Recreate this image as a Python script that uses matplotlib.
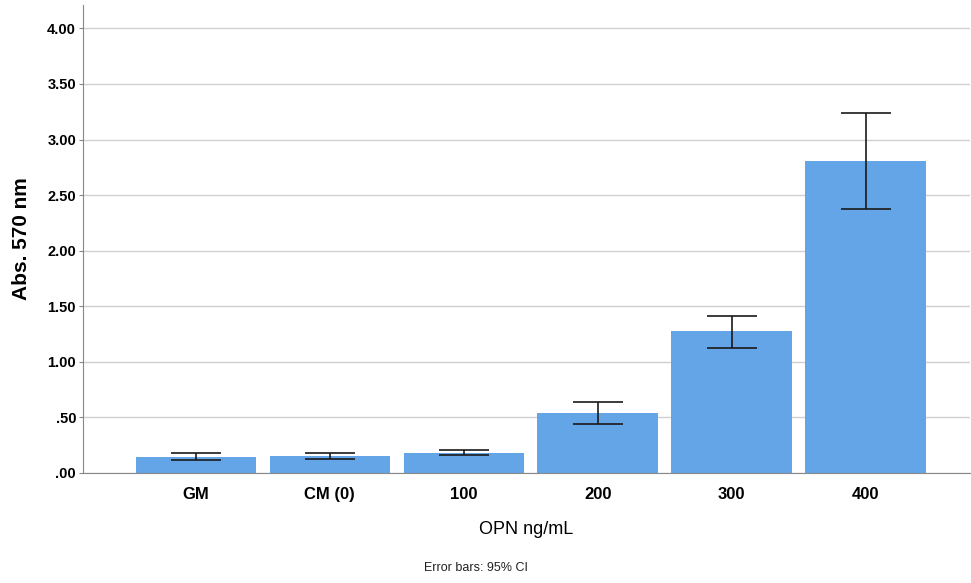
import matplotlib
matplotlib.use('Agg')
import matplotlib.pyplot as plt
from matplotlib.ticker import FuncFormatter

plt.rcParams['font.family'] = ['Liberation Sans', 'DejaVu Sans']

groups = ['GM', 'CM (0)', '100', '200', '300', '400']
means = [0.146, 0.153, 0.183, 0.54, 1.276, 2.807]
ci_low = [0.12, 0.129, 0.159, 0.44, 1.124, 2.379]
ci_high = [0.18, 0.183, 0.207, 0.64, 1.411, 3.239]
yticks = [0, 0.5, 1, 1.5, 2, 2.5, 3, 3.5, 4]


def fmt(v, pos):
    s = '%.2f' % v
    if s.startswith('0'):
        s = s[1:]
    return s


fig = plt.figure(figsize=(9.71, 5.83), dpi=100)
ax = fig.add_axes([0.0855, 0.1887, 0.9135, 0.8027])

x = list(range(len(groups)))
err = [[m - lo for m, lo in zip(means, ci_low)], [hi - m for m, hi in zip(means, ci_high)]]
ax.bar(x, means, width=0.9, color='#64a5e8', zorder=2)
ax.errorbar(x, means, yerr=err, fmt='none', ecolor='#1a1a1a', elinewidth=1.2,
            capsize=18, capthick=1.2, zorder=3)

ax.set_xlim(-0.843, 5.78)
ax.set_ylim(0, 4.21)
ax.set_yticks(yticks)
ax.yaxis.set_major_formatter(FuncFormatter(fmt))
ax.set_xticks(x)
ax.set_xticklabels(groups, fontsize=12, fontweight='bold')
for lab in ax.get_yticklabels():
    lab.set_fontweight('bold')
    lab.set_fontsize(10.5)
ax.grid(axis='y', color='#d0d0d0', linewidth=1, zorder=0)
ax.set_axisbelow(True)
for side in ['top', 'right']:
    ax.spines[side].set_visible(False)
ax.spines['left'].set_color('#888888')
ax.spines['bottom'].set_color('#888888')
ax.tick_params(axis='x', length=0, pad=10)
ax.tick_params(axis='y', length=3, color='#888888', pad=2)

ax.set_ylabel('Abs. 570 nm', fontsize=15, fontweight='bold', labelpad=12)
ax.set_xlabel('OPN ng/mL', fontsize=13, labelpad=14)
fig.text(0.49, 0.02, 'Error bars: 95% CI', fontsize=9, ha='center', color='#222222')

fig.savefig('out.png', dpi=100)
